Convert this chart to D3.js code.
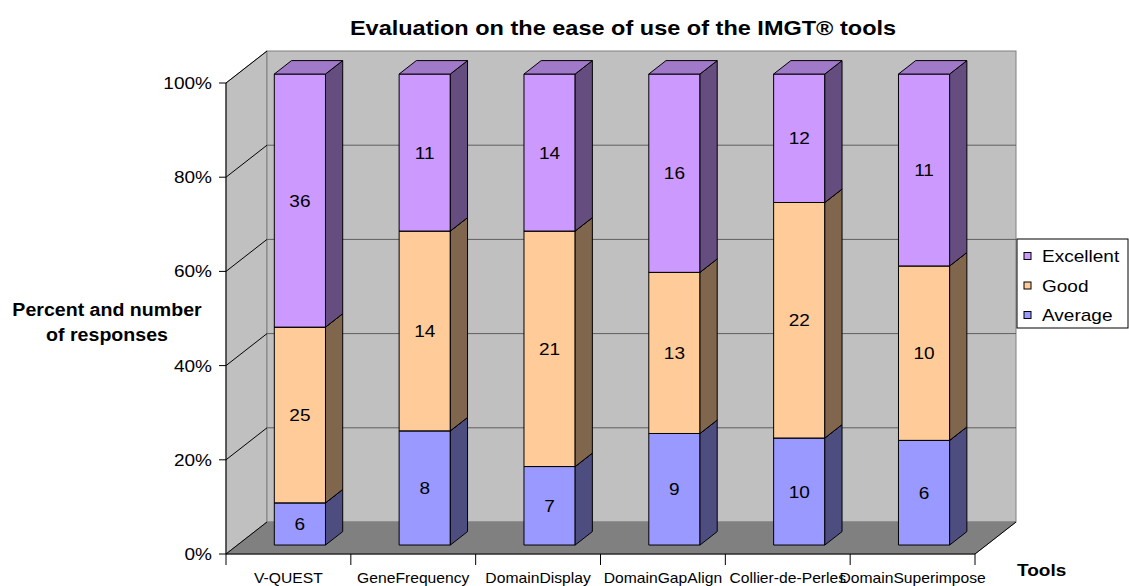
<!DOCTYPE html>
<html>
<head>
<meta charset="utf-8">
<script src="https://cdn.jsdelivr.net/npm/d3@7"></script>
<style>
  body { margin: 0; background: #fff; }
  text { font-family: Arial, "Liberation Sans", sans-serif; fill: #000; }
</style>
</head>
<body>
<svg id="chart" width="1129" height="586"></svg>
<script>
// data
var tools = ["V-QUEST", "GeneFrequency", "DomainDisplay", "DomainGapAlign", "Collier-de-Perles", "DomainSuperimpose"];
var average = [6, 8, 7, 9, 10, 6];
var good = [25, 14, 21, 13, 22, 10];
var excellent = [36, 11, 14, 16, 12, 11];
var yTicks = [0, 0.2, 0.4, 0.6, 0.8, 1];

var series = [
    {name: "Average", values: average, front: "#9999FF", side: "#4D4D80", top: "#7A7ACC"},
    {name: "Good", values: good, front: "#FFCC99", side: "#80664D", top: "#CCA37A"},
    {name: "Excellent", values: excellent, front: "#CC99FF", side: "#664D80", top: "#A07AC8"}
];

var svg = d3.select("#chart");
var sx = 1.12; // text in the picture is a bit wide

// front plane and depth
var x = d3.scaleBand().domain(tools).range([226, 975]);
var y = d3.scaleLinear().domain([0, 1]).range([554, 83]);
var depthX = 41, depthY = -32;
var barD0 = 0.28, barD1 = 0.70, barW = 0.41;

function p(px, py, d) {
    return [px + d * depthX, py + d * depthY];
}
function poly(pts) {
    return pts.map(function(q) { return q[0] + "," + q[1]; }).join(" ");
}
function label(g, txt, px, py, anchor, size, weight) {
    return g.append("text")
        .attr("transform", "translate(" + px + "," + py + ") scale(" + sx + ",1)")
        .attr("text-anchor", anchor)
        .style("font-size", size + "px")
        .style("font-weight", weight || "normal")
        .text(txt);
}

var x0 = x.range()[0], x1 = x.range()[1];
var yb = y(0), yt = y(1);

// walls
svg.append("polygon")
    .attr("points", poly([[x0, yb], [x0, yt], p(x0, yt, 1), p(x0, yb, 1)]))
    .attr("fill", "#C0C0C0").attr("stroke", "#808080");
svg.append("rect")
    .attr("x", x0 + depthX).attr("y", yt + depthY)
    .attr("width", x1 - x0).attr("height", yb - yt)
    .attr("fill", "#C0C0C0").attr("stroke", "#808080");
svg.append("polygon")
    .attr("points", poly([[x0, yb], p(x0, yb, 1), p(x1, yb, 1), [x1, yb]]))
    .attr("fill", "#808080").attr("stroke", "#808080");

// gridlines
yTicks.slice(1, -1).forEach(function(t) {
    var a = p(x0, y(t), 1), b = p(x1, y(t), 1);
    svg.append("line").attr("x1", a[0]).attr("y1", a[1]).attr("x2", b[0]).attr("y2", b[1])
        .attr("stroke", "#5F5F5F");
});
yTicks.forEach(function(t) {
    var a = p(x0, y(t), 1);
    svg.append("line").attr("x1", x0).attr("y1", y(t)).attr("x2", a[0]).attr("y2", a[1])
        .attr("stroke", "#000");
});
// right floor edge
var fr = p(x1, yb, 1);
svg.append("line").attr("x1", x1).attr("y1", yb).attr("x2", fr[0]).attr("y2", fr[1]).attr("stroke", "#000");

// axes
svg.append("line").attr("x1", x0).attr("y1", yt).attr("x2", x0).attr("y2", yb).attr("stroke", "#000");
svg.append("line").attr("x1", x0).attr("y1", yb).attr("x2", x1).attr("y2", yb).attr("stroke", "#000");
yTicks.forEach(function(t) {
    svg.append("line").attr("x1", x0 - 7).attr("y1", y(t)).attr("x2", x0).attr("y2", y(t)).attr("stroke", "#000");
    label(svg, d3.format(".0%")(t), 212, y(t) + 6, "end", 17);
});
tools.concat([null]).forEach(function(d, i) {
    var tx = d ? x(d) : x1;
    svg.append("line").attr("x1", tx).attr("y1", yb).attr("x2", tx).attr("y2", yb + 11).attr("stroke", "#000");
});
tools.forEach(function(d) {
    label(svg, d, x(d) + x.bandwidth() / 2, 583, "middle", 14);
});

// bars
var bw = x.bandwidth() * barW;
tools.forEach(function(d, i) {
    var total = series.reduce(function(s, ser) { return s + ser.values[i]; }, 0);
    var cum = 0;
    var left = x(d) + (x.bandwidth() - bw) / 2;
    series.forEach(function(ser) {
        var v = ser.values[i];
        var yLo = y(cum / total), yHi = y((cum + v) / total);
        cum += v;
        var fl = p(left, yLo, barD0), fh = p(left, yHi, barD0);
        var rl = p(left + bw, yLo, barD0), rh = p(left + bw, yHi, barD0);
        var bl = p(left + bw, yLo, barD1), bh = p(left + bw, yHi, barD1);
        var tl = p(left, yHi, barD1);
        var g = svg.append("g").attr("stroke", "#000").attr("stroke-width", 1);
        g.append("polygon").attr("points", poly([fl, fh, rh, rl])).attr("fill", ser.front);
        g.append("polygon").attr("points", poly([rl, rh, bh, bl])).attr("fill", ser.side);
        g.append("polygon").attr("points", poly([fh, tl, bh, rh])).attr("fill", ser.top);
        label(svg, v, (fl[0] + rl[0]) / 2, (fl[1] + fh[1]) / 2 + 6, "middle", 17);
    });
});

// titles
label(svg, "Evaluation on the ease of use of the IMGT\u00AE tools", 623, 35, "middle", 21, "bold");
label(svg, "Percent and number", 107, 316, "middle", 17.5, "bold");
label(svg, "of responses", 107, 341, "middle", 17.5, "bold");
label(svg, "Tools", 1017, 576, "start", 17, "bold");

// legend
svg.append("rect").attr("x", 1017).attr("y", 239).attr("width", 111).attr("height", 89)
    .attr("fill", "#fff").attr("stroke", "#000");
series.slice().reverse().forEach(function(ser, k) {
    var cy = 256 + k * 29.5;
    svg.append("rect").attr("x", 1024).attr("y", cy - 3.5).attr("width", 7).attr("height", 7)
        .attr("fill", ser.front).attr("stroke", "#000");
    label(svg, ser.name, 1042, cy + 6, "start", 17);
});
</script>
</body>
</html>
